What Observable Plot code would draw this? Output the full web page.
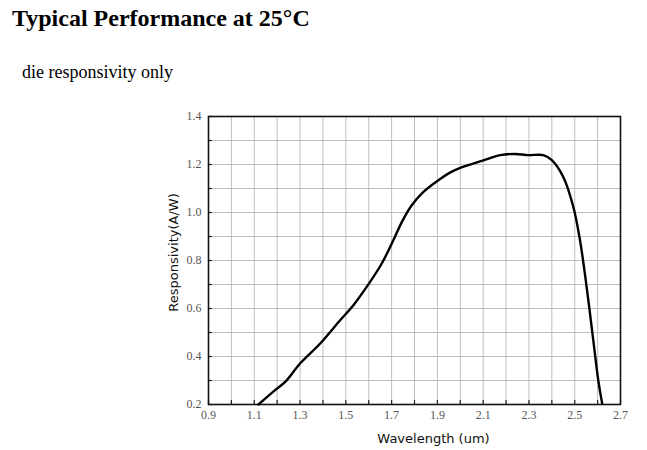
<!DOCTYPE html>
<html>
<head>
<meta charset="utf-8">
<script src="https://cdn.jsdelivr.net/npm/d3@7"></script>
<script src="https://cdn.jsdelivr.net/npm/@observablehq/plot@0.6"></script>
<style>
  html, body { margin: 0; padding: 0; background: #fff; width: 647px; height: 450px; overflow: hidden; }
  #title { position: absolute; left: 12px; top: 5px; font: bold 24px "Liberation Serif", "Times New Roman", serif; color: #000; white-space: nowrap; }
  #sub { position: absolute; left: 22px; top: 62px; font: 18px "Liberation Serif", "Times New Roman", serif; color: #000; white-space: nowrap; }
  #chart { position: absolute; left: 0; top: 100px; }
</style>
</head>
<body>
<div id="title">Typical Performance at 25°C</div>
<div id="sub">die responsivity only</div>
<div id="chart"></div>
<script>
const wavelength = [1.118, 1.191, 1.235, 1.30, 1.388, 1.475, 1.533, 1.606, 1.657, 1.708, 1.745, 1.788, 1.839, 1.912, 1.955, 2.002, 2.057, 2.101, 2.174, 2.239, 2.297, 2.363, 2.40, 2.45, 2.494, 2.523, 2.552, 2.581, 2.603, 2.62];
const responsivity = [0.20, 0.26, 0.294, 0.371, 0.454, 0.551, 0.614, 0.711, 0.7875, 0.885, 0.961, 1.030, 1.086, 1.14, 1.166, 1.187, 1.204, 1.217, 1.239, 1.244, 1.239, 1.239, 1.218, 1.148, 1.023, 0.885, 0.69, 0.468, 0.30, 0.204];
const xMinorTicks = d3.range(9, 28).map(v => v / 10);
const xLabelTicks = [0.9, 1.1, 1.3, 1.5, 1.7, 1.9, 2.1, 2.3, 2.5, 2.7];
const yMinorTicks = d3.range(2, 15).map(v => v / 10);
const yLabelTicks = [0.2, 0.4, 0.6, 0.8, 1.0, 1.2, 1.4];

const data = wavelength.map((w, i) => ({w, r: responsivity[i]}));
const tickFont = "Liberation Serif, serif";

const plot = Plot.plot({
  width: 647,
  height: 350,
  marginLeft: 208,
  marginRight: 27,
  marginTop: 16,
  marginBottom: 46,
  style: {background: "transparent", fontFamily: tickFont, fontSize: "12px"},
  x: {domain: [0.9, 2.7]},
  y: {domain: [0.2, 1.4]},
  marks: [
    Plot.gridX(xMinorTicks, {stroke: "#bdbdbd", strokeOpacity: 1, strokeWidth: 1}),
    Plot.gridY(yMinorTicks, {stroke: "#bdbdbd", strokeOpacity: 1, strokeWidth: 1}),
    Plot.axisX(xMinorTicks, {tickSize: -4, text: null, label: null, stroke: "#222", strokeWidth: 1.2}),
    Plot.axisY(yMinorTicks, {tickSize: -4, text: null, label: null, stroke: "#222", strokeWidth: 1.2}),
    Plot.axisX(xLabelTicks, {tickSize: 0, tickPadding: 6, tickFormat: d3.format(".1f"), fill: "#555", fontSize: 12, fontFamily: tickFont, label: null}),
    Plot.axisY(yLabelTicks, {tickSize: 0, tickPadding: 7, tickFormat: d3.format(".1f"), fill: "#555", fontSize: 12, fontFamily: tickFont, label: null}),
    Plot.frame({stroke: "#111", strokeWidth: 1.6}),
    Plot.line(data, {x: "w", y: "r", stroke: "#000", strokeWidth: 2.4, curve: "catmull-rom"}),
    Plot.text(["Wavelength (um)"], {frameAnchor: "bottom", dx: 19, dy: 38, fontFamily: "DejaVu Sans, sans-serif", fontSize: 13, fill: "#111"}),
    Plot.text(["Responsivity(A/W)"], {frameAnchor: "left", textAnchor: "middle", dx: -35, dy: -8, rotate: -90, fontFamily: "DejaVu Sans, sans-serif", fontSize: 13, fill: "#111"})
  ]
});
document.getElementById("chart").appendChild(plot);
</script>
</body>
</html>
